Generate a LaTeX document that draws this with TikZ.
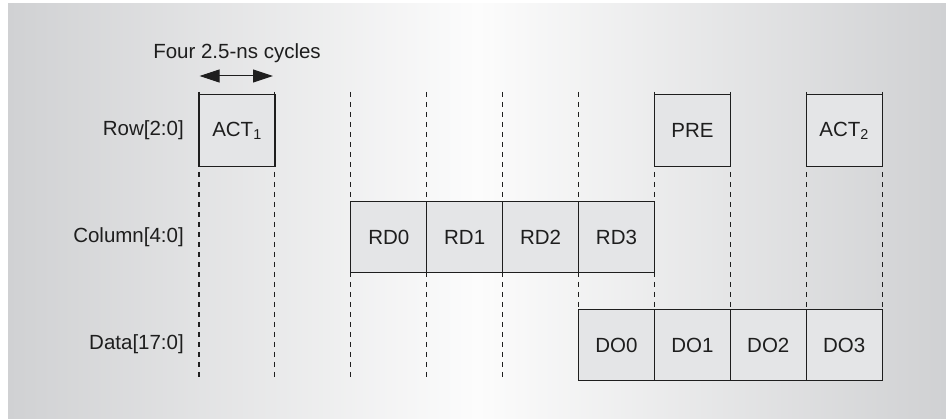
\documentclass[tikz,border=0pt]{standalone}
\usepackage{fontspec}
\setmainfont{Liberation Sans}
\usetikzlibrary{arrows.meta}

\definecolor{bgside}{RGB}{208,209,211}
\definecolor{bgmid}{RGB}{252,252,252}
\definecolor{slotfill}{RGB}{228,229,231}
\definecolor{ink}{RGB}{30,30,30}

\tikzset{
  slot/.style={draw=ink, line width=1.2pt, fill=slotfill, minimum width=75.9pt,
    minimum height=71.5pt, inner sep=0pt, outer sep=0pt,
    font=\fontsize{20.5}{24}\selectfont, text=ink},
  sig/.style={anchor=east, inner sep=0pt, font=\fontsize{20.5}{24}\selectfont, text=ink},
  guide/.style={draw=ink, line width=1.1pt, dash pattern=on 5pt off 5pt}
}

\begin{document}
\begin{tikzpicture}[x=1pt,y=-1pt]
   \useasboundingbox (0,0) rectangle (946,419);
   \shade[left color=bgside,right color=bgside,middle color=bgmid] (8,4) rectangle (946,419);
   % cycle boundaries
   \foreach \x in {199,274.9,350.8,426.7,502.6,578.5,654.4,730.3,806.2,882.1}
     \draw[guide] (\x,92) -- (\x,381);
   \node[sig] (row) at (184,130.5) {Row[2:0]};
   \node[sig] (col) at (184,237) {Column[4:0]};
   \node[sig] (dat) at (184,344) {Data[17:0]};
   \node[slot] (act1) at (237,130.5) {ACT\textsubscript{1}};
   \node[slot] (pre) at (692.4,130.5) {PRE};
   \node[slot] (act2) at (844.2,130.5) {ACT\textsubscript{2}};
   \node[slot] (rd0) at (388.8,237) {RD0};
   \node[slot] (rd1) at (464.7,237) {RD1};
   \node[slot] (rd2) at (540.6,237) {RD2};
   \node[slot] (rd3) at (616.5,237) {RD3};
   \node[slot] (do0) at (616.5,345) {DO0};
   \node[slot] (do1) at (692.4,345) {DO1};
   \node[slot] (do2) at (768.3,345) {DO2};
   \node[slot] (do3) at (844.2,345) {DO3};
   \node[sig,anchor=center] (cyc) at (237,53) {Four 2.5-ns cycles};
   \coordinate (cl) at (199.5,76);
   \coordinate (cr) at (273,76);
   \draw[ink,line width=1pt,{Triangle[length=20pt,width=13pt]}-{Triangle[length=20pt,width=13pt]}] (cl) -- (cr);
\end{tikzpicture}
\end{document}
